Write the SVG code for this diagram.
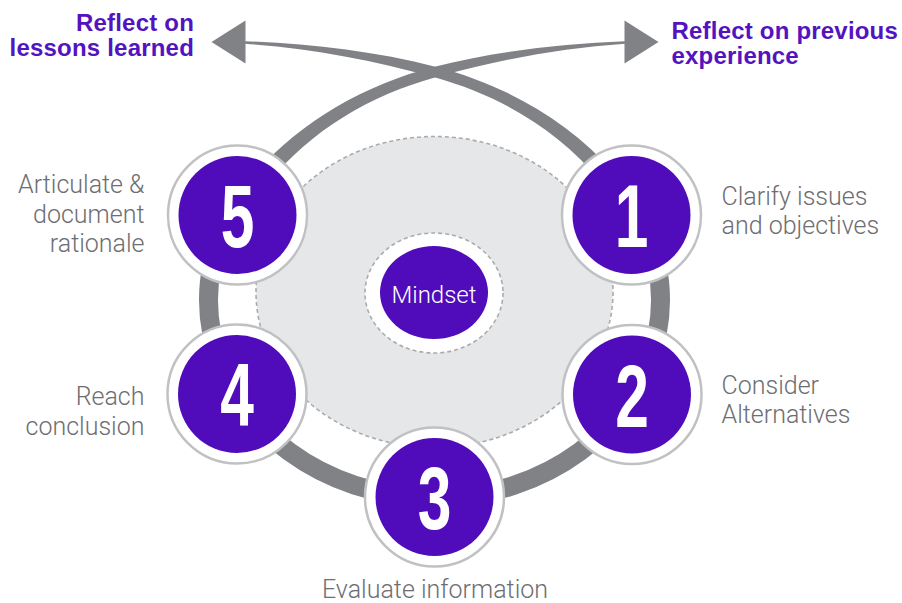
<svg xmlns="http://www.w3.org/2000/svg" width="902" height="603" viewBox="0 0 902 603">
  <defs>
    <style>
      .label { font-family: Roboto, "Liberation Sans", sans-serif; font-weight: 300; font-size: 25px; fill: #6d6e71; }
      .reflect { font-family: "Liberation Sans", Arial, sans-serif; font-weight: bold; font-size: 24px; fill: #5313bf; letter-spacing: 0.2px; }
      .ring { fill: none; stroke: #818286; stroke-width: 19; }
      .band { fill: #818286; }
      .node-ring { fill: #ffffff; stroke: #bfc1c3; stroke-width: 2.5; }
      .node-core { fill: #500cbb; }
      .digit { font-family: "Liberation Sans", Arial, sans-serif; font-weight: bold; font-size: 89px; fill: #ffffff; text-anchor: middle; }
      .dashed { stroke: #a9abae; stroke-width: 1.6; stroke-dasharray: 4 3; }
    </style>
    <!-- upper sweep: leaves node 5, crosses the top and tapers into the right arrow -->
    <path id="sweep" d="M255.9,172.9 C301.1,120.5 366.6,84.1 433.6,66.9 C495.9,51.1 560.7,43.7 624.9,41.25 L625.1,43.75 C560.9,48.1 498.3,59.75 436.4,77.1 C369.8,95.7 311.9,129.5 268.1,183.1 Z"/>
    <polygon id="head" points="624.5,20.5 658.5,42 624.5,63.5"/>
  </defs>

  <rect width="902" height="603" fill="#ffffff"/>

  <!-- connectors: the loop and the two crossing arrows -->
  <g id="connectors">
    <path class="ring" d="M238.8,201 A226,198 0 1 0 630.2,201"/>
    <use href="#sweep" class="band"/>
    <use href="#sweep" class="band" transform="matrix(-1,0,0,1,870,0)"/>
    <use href="#head" class="band"/>
    <use href="#head" class="band" transform="matrix(-1,0,0,1,870,0)"/>
  </g>

  <!-- shaded field behind the mindset -->
  <g id="field">
    <ellipse class="dashed" cx="434.5" cy="292" rx="178.5" ry="155.5" fill="#e6e7e8"/>
  </g>

  <g id="mindset">
    <ellipse class="dashed" cx="434" cy="293" rx="69" ry="60" fill="#ffffff"/>
    <ellipse cx="434" cy="292.5" rx="54" ry="46.5" fill="#500cbb"/>
    <text x="434" y="302.5" text-anchor="middle" font-family="Roboto, 'Liberation Sans', sans-serif" font-weight="300" font-size="24" fill="#ffffff">Mindset</text>
  </g>

  <g id="node1">
    <circle class="node-ring" cx="631.5" cy="215" r="69.5"/>
    <circle class="node-core" cx="631.5" cy="215" r="59"/>
    <text class="digit" transform="translate(631.5,247) scale(0.68,1)">1</text>
  </g>
  <g id="node2">
    <circle class="node-ring" cx="632" cy="394.5" r="69.5"/>
    <circle class="node-core" cx="632" cy="394.5" r="59"/>
    <text class="digit" transform="translate(632,426.5) scale(0.68,1)">2</text>
  </g>
  <g id="node3">
    <circle class="node-ring" cx="434.5" cy="497" r="69.5"/>
    <circle class="node-core" cx="434.5" cy="497" r="59"/>
    <text class="digit" transform="translate(434.5,529) scale(0.68,1)">3</text>
  </g>
  <g id="node4">
    <circle class="node-ring" cx="237" cy="394" r="69.5"/>
    <circle class="node-core" cx="237" cy="394" r="59"/>
    <text class="digit" transform="translate(237,426) scale(0.68,1)">4</text>
  </g>
  <g id="node5">
    <circle class="node-ring" cx="237.5" cy="215" r="69.5"/>
    <circle class="node-core" cx="237.5" cy="215" r="59"/>
    <text class="digit" transform="translate(237.5,247) scale(0.68,1)">5</text>
  </g>

  <!-- step captions -->
  <g id="captions">
    <text class="label" x="721.5" y="205">Clarify issues</text>
    <text class="label" x="721.5" y="234">and objectives</text>
    <text class="label" x="721.5" y="394">Consider</text>
    <text class="label" x="721.5" y="423">Alternatives</text>
    <text class="label" x="435" y="597.5" text-anchor="middle">Evaluate information</text>
    <text class="label" x="144.5" y="405" text-anchor="end">Reach</text>
    <text class="label" x="144.5" y="434.5" text-anchor="end">conclusion</text>
    <text class="label" x="144.5" y="193" text-anchor="end">Articulate &amp;</text>
    <text class="label" x="144.5" y="223" text-anchor="end">document</text>
    <text class="label" x="144.5" y="252" text-anchor="end">rationale</text>
  </g>

  <g id="reflect-labels">
    <text class="reflect" x="194" y="31" text-anchor="end">Reflect on</text>
    <text class="reflect" x="194" y="56" text-anchor="end">lessons learned</text>
    <text class="reflect" x="671.5" y="38.5">Reflect on previous</text>
    <text class="reflect" x="671.5" y="64">experience</text>
  </g>
</svg>
